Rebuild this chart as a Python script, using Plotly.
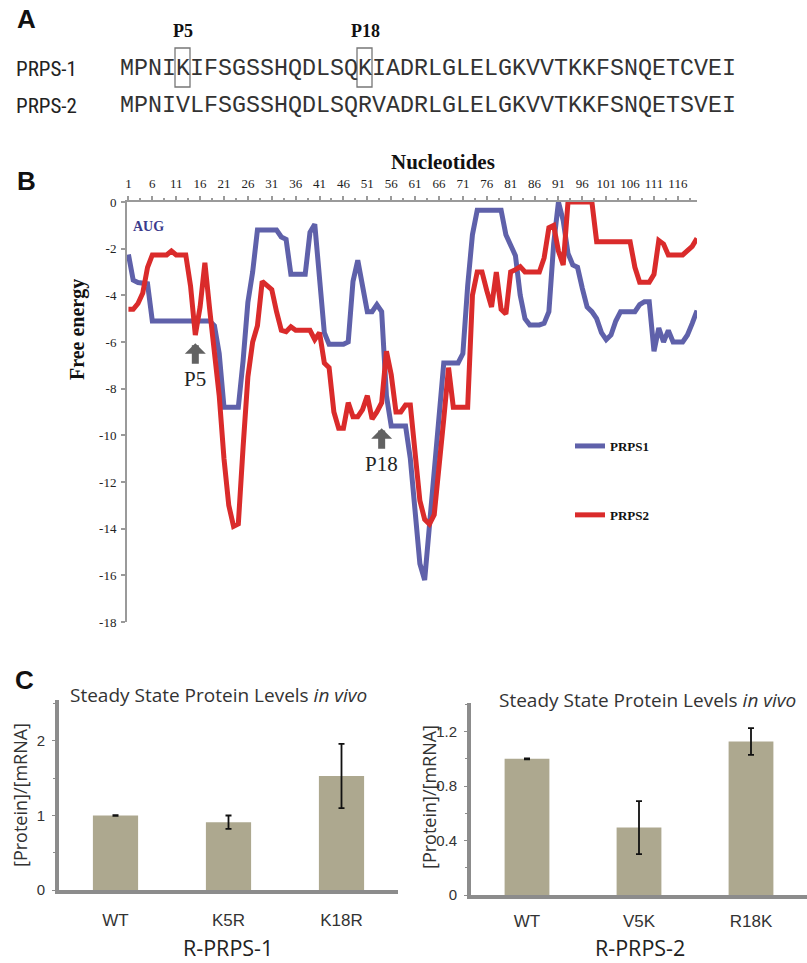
import plotly.graph_objects as go

# ---------------- Data ----------------
seq_prps1 = "MPNIKIFSGSSHQDLSQKIADRLGLELGKVVTKKFSNQETCVEI"
seq_prps2 = "MPNIVLFSGSSHQDLSQRVADRLGLELGKVVTKKFSNQETSVEI"
boxed_positions = [5, 18]          # residues boxed in panel A
boxed_labels = ["P5", "P18"]

# Panel B: free energy profile (vertices)
prps1_nt = [1, 2, 3, 5, 6, 18, 19, 20, 21, 24, 25, 26, 27, 28, 32, 33, 34, 35, 38, 39, 40,
            41, 42, 43, 46, 47, 48, 49, 50, 51, 52, 53, 54, 55, 56, 59, 60, 61, 62, 63, 64,
            65, 66, 67, 70, 71, 72, 73, 74, 79, 80, 81, 82, 83, 84, 85, 87, 88, 89, 90, 91,
            92, 93, 94, 95, 96, 97, 98, 99, 100, 101, 102, 103, 104, 107, 108, 109, 110,
            111, 112, 113, 114, 115, 117, 118, 119, 120]
prps1_dg = [-2.25, -3.35, -3.45, -3.5, -5.1, -5.1, -5.3, -6.5, -8.8, -8.8, -6.8, -4.3, -3.0,
            -1.2, -1.2, -1.5, -1.6, -3.1, -3.1, -1.3, -0.95, -3.6, -5.6, -6.1, -6.1, -6.0,
            -3.4, -2.5, -3.6, -4.7, -4.7, -4.4, -4.7, -8.3, -9.6, -9.6, -11.0, -13.2, -15.5,
            -16.2, -14.0, -11.6, -9.2, -6.9, -6.9, -6.5, -3.6, -1.4, -0.35, -0.35, -1.4,
            -1.9, -2.3, -4.0, -5.0, -5.27, -5.27, -5.2, -4.7, -1.8, 0.0, -0.8, -2.2, -2.7,
            -2.8, -3.7, -4.5, -4.7, -5.0, -5.6, -5.9, -5.7, -5.1, -4.7, -4.7, -4.4, -4.27,
            -4.27, -6.4, -5.4, -6.0, -5.5, -6.0, -6.0, -5.7, -5.2, -4.65]

prps2_nt = [1, 2, 3, 4, 5, 6, 9, 10, 11, 13, 14, 15, 16, 17, 18, 19, 20, 21, 22, 23, 24, 25,
            26, 27, 28, 29, 30, 31, 32, 33, 34, 35, 36, 39, 40, 41, 42, 43, 44, 45, 46, 47,
            48, 49, 50, 51, 52, 53, 54, 55, 56, 57, 58, 59, 60, 61, 62, 63, 64, 65, 66, 67,
            68, 69, 72, 73, 74, 75, 76, 77, 78, 79, 80, 81, 82, 83, 84, 87, 88, 89, 90, 91,
            92, 93, 98, 99, 106, 107, 108, 110, 111, 112, 113, 114, 117, 118, 119, 120]
prps2_dg = [-4.6, -4.6, -4.35, -3.9, -2.8, -2.27, -2.27, -2.1, -2.27, -2.27, -3.6, -5.7, -4.5,
            -2.6, -4.6, -6.6, -8.3, -11.0, -13.0, -13.9, -13.8, -10.5, -7.5, -6.0, -5.3,
            -3.4, -3.55, -3.75, -4.7, -5.5, -5.56, -5.35, -5.5, -5.5, -5.9, -5.6, -6.9, -7.1,
            -9.0, -9.7, -9.7, -8.6, -9.2, -9.2, -8.9, -8.3, -9.3, -9.0, -8.6, -6.4, -7.4,
            -9.0, -9.0, -8.7, -8.7, -11.0, -12.8, -13.6, -13.8, -13.4, -11.5, -9.3, -7.1,
            -8.8, -8.8, -4.0, -3.0, -3.0, -3.8, -4.5, -3.0, -4.6, -4.8, -3.0, -2.9, -2.77,
            -3.0, -3.0, -2.4, -1.1, -1.0, -2.1, -2.7, 0.0, 0.0, -1.7, -1.7, -2.8, -3.44,
            -3.44, -3.1, -1.65, -1.8, -2.27, -2.27, -2.1, -1.9, -1.56]

arrow_nt = [15, 54]
arrow_dg = [-6.05, -9.7]
arrow_text = ["P5", "P18"]

y_ticks_b = [0, -2, -4, -6, -8, -10, -12, -14, -16, -18]

# Panel C
cats1 = ["WT", "K5R", "K18R"]
vals1 = [1.0, 0.91, 1.53]
err1 = [0.004, 0.09, 0.43]
cats2 = ["WT", "V5K", "R18K"]
vals2 = [1.0, 0.495, 1.127]
err2 = [0.004, 0.195, 0.098]
y_ticks_c1 = [0, 1, 2]
y_ticks_c2 = [0, 0.4, 0.8, 1.2]

# ---------------- Figure ----------------
W, H = 807, 963
def px(x): return x / W
def py(y): return 1 - y / H

BLUE = "#5f61aa"
RED = "#da2b2b"
BAR = "#ada88f"
AX_B = "#9a9a9a"
AX_C = "#8c8c8c"
SERIF = "Liberation Serif"
SANS = "Liberation Sans"
NARROW = "Liberation Sans Narrow, Roboto Condensed, Liberation Sans"
OPEN = "Open Sans"

fig = go.Figure()
fig.add_trace(go.Scatter(x=prps1_nt, y=prps1_dg, mode="lines", name="<b>PRPS1</b>",
                         line=dict(color=BLUE, width=5), legendgroup="g1",
                         xaxis="x", yaxis="y"))
fig.add_trace(go.Scatter(x=prps2_nt, y=prps2_dg, mode="lines", name="<b>PRPS2</b>",
                         line=dict(color=RED, width=5), legendgroup="g2",
                         xaxis="x", yaxis="y"))

fig.add_trace(go.Bar(x=cats1, y=vals1, width=0.4, marker=dict(color=BAR, line=dict(width=0)),
                     error_y=dict(type="data", array=err1, color="#111", thickness=1.8, width=3),
                     xaxis="x2", yaxis="y2", showlegend=False))
fig.add_trace(go.Bar(x=cats2, y=vals2, width=0.4, marker=dict(color=BAR, line=dict(width=0)),
                     error_y=dict(type="data", array=err2, color="#111", thickness=1.8, width=3),
                     xaxis="x3", yaxis="y3", showlegend=False))

ann = []
shapes = []

def text_at(text, x, y, font, xanchor="center", yanchor="middle", **kw):
    ann.append(dict(text=text, x=px(x), y=py(y), xref="paper", yref="paper",
                    xanchor=xanchor, yanchor=yanchor, showarrow=False, font=font, **kw))

# Panel letters
for letter, (lx, ly) in {"A": (27, 19), "B": (27, 181), "C": (24, 680)}.items():
    text_at("<b>%s</b>" % letter, lx, ly, dict(family=SANS, size=26, color="#111"))

# Panel A
char_w = 14.0
seq_x0 = 120
for name, seq, yy in [("PRPS-1", seq_prps1, 69), ("PRPS-2", seq_prps2, 106)]:
    text_at(name, 14, yy, dict(family=NARROW, size=21, color="#222"), xanchor="left")
    text_at(seq, seq_x0 - 2, yy, dict(family="Liberation Mono", size=23.33, color="#333"),
            xanchor="left")
for pos, lab in zip(boxed_positions, boxed_labels):
    x0 = seq_x0 + (pos - 1) * char_w
    shapes.append(dict(type="rect", xref="paper", yref="paper", x0=px(x0 - 1), x1=px(x0 + char_w),
                       y0=py(87), y1=py(48), line=dict(color="#777", width=1.3)))
    text_at("<b>%s</b>" % lab, x0 + char_w / 2, 31, dict(family=SERIF, size=18, color="#111"))

# Panel B texts
text_at("<b>Nucleotides</b>", 443, 162, dict(family=SERIF, size=21, color="#111"))
text_at("<b>Free energy</b>", 77, 330, dict(family=SERIF, size=20, color="#111"), textangle=-90)
text_at("<b>AUG</b>", 131, 226, dict(family=SERIF, size=14, color="#3b3b8c"), xanchor="left")
for nt, dg, t in zip(arrow_nt, arrow_dg, arrow_text):
    ann.append(dict(text=t, x=nt, y=dg, xref="x", yref="y", showarrow=True, arrowhead=1,
                    arrowsize=0.5, arrowwidth=7, arrowcolor="#626262", ax=0, ay=36,
                    startstandoff=2, font=dict(family=SERIF, size=21, color="#222")))

# Panel C texts
for cx, cy in [(218, 695), (647, 700)]:
    text_at("Steady State Protein Levels <i>in vivo</i>", cx, cy,
            dict(family=OPEN, size=19, color="#333"))
for cx, cy in [(20, 795), (429, 797)]:
    text_at("[Protein]/[mRNA]", cx, cy, dict(family=OPEN, size=18, color="#333"), textangle=-90)
for t, cx in [("R-PRPS-1", 228), ("R-PRPS-2", 640)]:
    text_at(t, cx, 947, dict(family=OPEN, size=21.5, color="#222"))

axis_common_b = dict(showgrid=False, zeroline=False, showline=True, linecolor=AX_B, linewidth=2,
                     ticks="outside", tickcolor=AX_B, tickwidth=1.5, automargin=False,
                     tickfont=dict(family=SERIF, size=13, color="#222"))
axis_common_c = dict(showgrid=False, zeroline=False, showline=True, linecolor=AX_C, linewidth=4,
                     automargin=False)

fig.update_layout(
    width=W, height=H, margin=dict(l=0, r=0, t=0, b=0, pad=0, autoexpand=False),
    paper_bgcolor="white", plot_bgcolor="rgba(0,0,0,0)",
    showlegend=True,
    legend=dict(x=px(570), y=py(431), xanchor="left", yanchor="top", tracegroupgap=49,
                bgcolor="rgba(0,0,0,0)", font=dict(family=SERIF, size=13, color="#111"),
                itemwidth=30),
    xaxis=dict(domain=[px(127), px(697)], range=[0.7, 120], side="top", anchor="y",
               tickmode="linear", tick0=1, dtick=5, ticklen=4, ticklabelstandoff=3,
               minor=dict(dtick=2.5, tick0=1, ticks="outside", ticklen=2, tickcolor=AX_B),
               **axis_common_b),
    yaxis=dict(domain=[py(622), py(202)], range=[-18, 0], anchor="x",
               tickvals=y_ticks_b, ticktext=[str(v) for v in y_ticks_b], ticklen=4,
               ticklabelstandoff=2, **axis_common_b),
    xaxis2=dict(domain=[px(59), px(398)], anchor="y2", type="category", range=[-0.5, 2.5],
                ticks="", ticklabelstandoff=12,
                tickfont=dict(family=SANS, size=17, color="#333"), **axis_common_c),
    yaxis2=dict(domain=[py(890), py(700)], range=[0, 2.55], anchor="x2",
                tickvals=y_ticks_c1, ticks="outside", ticklen=3, tickcolor=AX_C,
                ticklabelstandoff=4,
                minor=dict(dtick=0.5, ticks="outside", ticklen=2, tickcolor=AX_C),
                tickfont=dict(family=SANS, size=15, color="#333"), **axis_common_c),
    xaxis3=dict(domain=[px(471), 1.0], anchor="y3", type="category", range=[-0.5, 2.5],
                ticks="", ticklabelstandoff=8,
                tickfont=dict(family=SANS, size=17, color="#333"), **axis_common_c),
    yaxis3=dict(domain=[py(895), py(703)], range=[0, 1.41], anchor="x3",
                tickvals=y_ticks_c2, ticktext=["0", "0.4", "0.8", "1.2"],
                ticks="outside", ticklen=3, tickcolor=AX_C, ticklabelstandoff=4,
                minor=dict(dtick=0.2, ticks="outside", ticklen=2, tickcolor=AX_C),
                tickfont=dict(family=SANS, size=15, color="#333"), **axis_common_c),
    annotations=ann, shapes=shapes,
)

fig.write_html("out.html")
